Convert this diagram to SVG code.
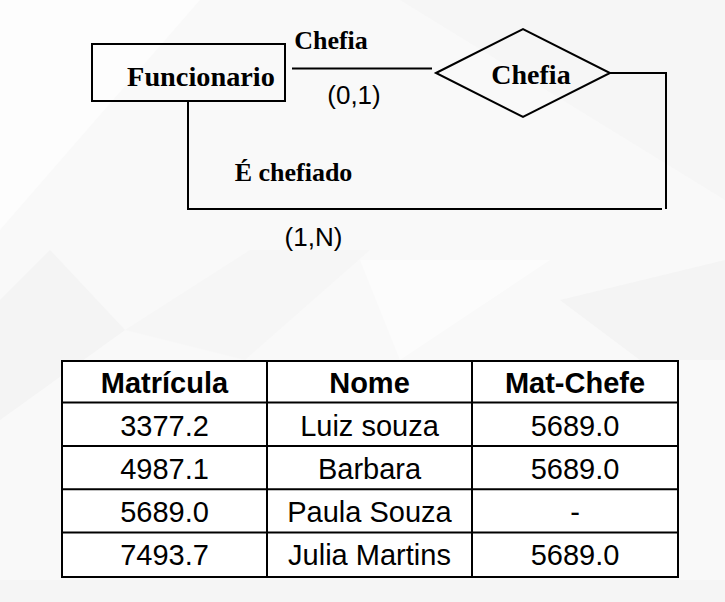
<svg xmlns="http://www.w3.org/2000/svg" width="725" height="602" viewBox="0 0 725 602">
<style>
.ln{stroke:#000;stroke-width:2;fill:none}
.shape{stroke:#000;stroke-width:2;fill:none}
.tm{font-family:"Liberation Serif","Times New Roman",serif;font-weight:bold;fill:#000}
.ar{font-family:"Liberation Sans",Arial,sans-serif;fill:#000}
.hd{font-family:"Liberation Sans",Arial,sans-serif;font-weight:bold;fill:#000;font-size:29px;text-anchor:middle}
.cl{font-family:"Liberation Sans",Arial,sans-serif;fill:#000;font-size:29px;text-anchor:middle}
.tl{stroke:#000;stroke-width:2}
</style>
<g id="background">
<rect x="0" y="0" width="725" height="602" fill="#f9f9f9"/>
<polygon points="0,0 200,0 0,230" fill="#fdfdfd"/>
<polygon points="50,250 125,330 0,420 0,300" fill="#f4f4f4"/>
<polygon points="125,330 250,250 370,250 245,360" fill="#f6f6f6"/>
<polygon points="400,0 725,0 725,200" fill="#f6f6f6"/>
<polygon points="360,260 550,260 400,360" fill="#fcfcfc"/>
<polygon points="560,300 725,260 725,360 640,360" fill="#f4f4f4"/>
<polygon points="0,580 725,580 725,602 0,602" fill="#f5f5f5"/>
</g>
<g id="connectors">
<line class="ln" x1="292" y1="68.5" x2="432" y2="68.5"/>
<polyline class="ln" points="188,101 188,209 662,209"/>
<polyline class="ln" points="610,73 666,73 666,209"/>
</g>
<g id="funcionario">
<rect class="shape" x="92" y="44" width="193" height="57"/>
<text class="tm" x="201" y="86" font-size="28.3" text-anchor="middle">Funcionario</text>
</g>
<g id="chefia-rel">
<polygon class="shape" points="436,73 523,29 610,73 523,117" fill="#fff"/>
<text class="tm" x="531" y="84" font-size="28" text-anchor="middle">Chefia</text>
</g>
<g id="labels">
<text class="tm" x="331" y="49" font-size="26" text-anchor="middle">Chefia</text>
<text class="ar" x="354" y="104" font-size="26" text-anchor="middle">(0,1)</text>
<text class="tm" x="293.5" y="181" font-size="26" text-anchor="middle">É chefiado</text>
<text class="ar" x="313.5" y="246" font-size="26" text-anchor="middle">(1,N)</text>
</g>
<g id="table">
<rect x="62" y="361" width="616" height="216" fill="#fff" stroke="#000" stroke-width="2"/>
<line class="tl" x1="267" y1="361" x2="267" y2="577"/>
<line class="tl" x1="472" y1="361" x2="472" y2="577"/>
<line class="tl" x1="62" y1="402.5" x2="678" y2="402.5"/>
<line class="tl" x1="62" y1="446" x2="678" y2="446"/>
<line class="tl" x1="62" y1="489.3" x2="678" y2="489.3"/>
<line class="tl" x1="62" y1="532.5" x2="678" y2="532.5"/>
<text class="hd" x="164.5" y="393">Matrícula</text>
<text class="hd" x="369.5" y="393">Nome</text>
<text class="hd" x="575" y="393">Mat-Chefe</text>
<text class="cl" x="164.5" y="436">3377.2</text>
<text class="cl" x="369.5" y="436">Luiz souza</text>
<text class="cl" x="575" y="436">5689.0</text>
<text class="cl" x="164.5" y="479">4987.1</text>
<text class="cl" x="369.5" y="479">Barbara</text>
<text class="cl" x="575" y="479">5689.0</text>
<text class="cl" x="164.5" y="522">5689.0</text>
<text class="cl" x="369.5" y="522">Paula Souza</text>
<text class="cl" x="575" y="522">-</text>
<text class="cl" x="164.5" y="565">7493.7</text>
<text class="cl" x="369.5" y="565">Julia Martins</text>
<text class="cl" x="575" y="565">5689.0</text>
</g>
</svg>
